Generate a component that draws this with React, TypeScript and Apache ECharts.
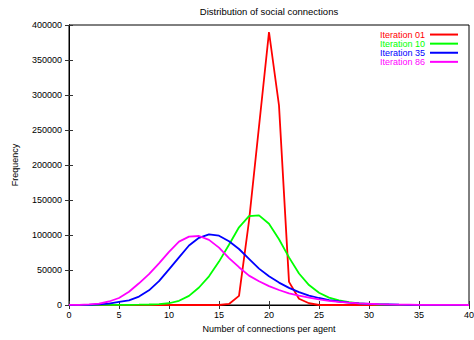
import React, { useEffect, useRef } from "react";
import * as echarts from "echarts";

const xValues = [
  0, 1, 2, 3, 4, 5, 6, 7, 8, 9, 10, 11, 12, 13, 14, 15, 16, 17, 18, 19, 20,
  21, 22, 23, 24, 25, 26, 27, 28, 29, 30, 31, 32, 33, 34, 35, 36, 37, 38, 39, 40,
];

const iter01 = [
  0, 0, 0, 0, 0, 0, 0, 0, 0, 0, 0, 0, 0, 0, 0, 0, 1500, 13000, 120000, 255000,
  390000, 285000, 33000, 9000, 2500, 0, 0, 0, 0, 0, 0, 0, 0, 0, 0, 0, 0, 0, 0, 0, 0,
];

const iter10 = [
  0, 0, 0, 50, 100, 150, 250, 400, 700, 1200, 2500, 6000, 13000, 25000, 41000,
  62000, 86000, 111000, 127000, 128000, 116000, 94000, 68000, 45000, 28500,
  17500, 10500, 6500, 4000, 2300, 1300, 700, 400, 200, 100, 60, 30, 20, 10, 0, 0,
];

const iter35 = [
  0, 100, 300, 800, 2000, 4500, 6500, 12000, 21000, 34000, 51000, 68000, 85000,
  96000, 101000, 99000, 91000, 80000, 66000, 52000, 41000, 32000, 24500, 18500,
  13500, 10000, 7000, 5000, 3500, 2400, 1600, 1000, 700, 450, 300, 200, 130, 90,
  60, 40, 20,
];

const iter86 = [
  100, 300, 1000, 2000, 5000, 10000, 19000, 31000, 44000, 59500, 76000, 90500,
  97600, 98600, 93000, 82000, 67000, 54000, 42000, 34000, 27000, 21400, 16700,
  13300, 10400, 8000, 6000, 4500, 3300, 2400, 1800, 1300, 900, 600, 450, 300,
  200, 150, 100, 50, 30,
];

const seriesNames = ["Iteration 01", "Iteration 10", "Iteration 35", "Iteration 86"];
const seriesColors = ["#ff0000", "#00ff00", "#0000ff", "#ff00ff"];
const seriesData = [iter01, iter10, iter35, iter86];

const FONT = "Liberation Sans, Arial, Helvetica, sans-serif";

export default function App() {
  const ref = useRef<HTMLDivElement>(null);

  useEffect(() => {
    if (!ref.current) return;
    const chart = echarts.init(ref.current, null, { renderer: "svg" });
    const tickStyle = { show: true, inside: true, length: 4, lineStyle: { color: "#333", width: 1 } };
    chart.setOption({
      animation: false,
      backgroundColor: "#fff",
      title: {
        text: "Distribution of social connections",
        left: 269,
        top: 6,
        padding: 0,
        textAlign: "center",
        textStyle: { fontFamily: FONT, fontSize: 9.5, fontWeight: "normal", color: "#000" },
      },
      legend: {
        orient: "vertical",
        right: 16,
        top: 30,
        padding: 0,
        align: "right",
        icon: "rect",
        itemWidth: 28,
        itemHeight: 2,
        itemGap: 0,
        selectedMode: false,
        textStyle: { fontFamily: FONT, fontSize: 9, lineHeight: 9.1 },
        data: seriesNames.map((n, i) => ({ name: n, textStyle: { color: seriesColors[i] } })),
      },
      grid: {
        left: 69,
        right: 5,
        top: 25,
        bottom: 35,
        outerBoundsMode: "none",
        containLabel: false,
        show: true,
        borderColor: "#000",
        borderWidth: 1,
      },
      xAxis: [
        {
          type: "value",
          min: 0,
          max: 40,
          interval: 5,
          name: "Number of connections per agent",
          nameLocation: "middle",
          nameGap: 19,
          nameTextStyle: { fontFamily: FONT, fontSize: 9, color: "#000" },
          axisLine: { show: true, lineStyle: { color: "#000", width: 1 } },
          axisTick: tickStyle,
          axisLabel: { fontFamily: FONT, fontSize: 9, color: "#000", margin: 5 },
          splitLine: { show: false },
        },
        {
          type: "value",
          position: "top",
          min: 0,
          max: 40,
          interval: 5,
          axisLine: { show: true, lineStyle: { color: "#000", width: 1 } },
          axisTick: tickStyle,
          axisLabel: { show: false },
          splitLine: { show: false },
        },
      ],
      yAxis: [
        {
          type: "value",
          min: 0,
          max: 400000,
          interval: 50000,
          name: "Frequency",
          nameLocation: "middle",
          nameGap: 50,
          nameTextStyle: { fontFamily: FONT, fontSize: 9, color: "#000" },
          axisLine: { show: true, lineStyle: { color: "#000", width: 1 } },
          axisTick: tickStyle,
          axisLabel: {
            fontFamily: FONT,
            fontSize: 9,
            color: "#000",
            margin: 7,
            formatter: (v: number) => String(v),
          },
          splitLine: { show: false },
        },
        {
          type: "value",
          position: "right",
          min: 0,
          max: 400000,
          interval: 50000,
          axisLine: { show: true, lineStyle: { color: "#000", width: 1 } },
          axisTick: tickStyle,
          axisLabel: { show: false },
          splitLine: { show: false },
        },
      ],
      series: seriesNames.map((n, i) => ({
        name: n,
        type: "line",
        xAxisIndex: 0,
        yAxisIndex: 0,
        showSymbol: false,
        symbol: "none",
        color: seriesColors[i],
        lineStyle: { color: seriesColors[i], width: 1.8 },
        data: xValues.map((x, j) => [x, seriesData[i][j]]),
        z: 2 + i,
      })),
    });
    return () => chart.dispose();
  }, []);

  return (
    <div
      ref={ref}
      style={{ position: "absolute", left: 0, top: 0, width: 474, height: 340 }}
    />
  );
}
